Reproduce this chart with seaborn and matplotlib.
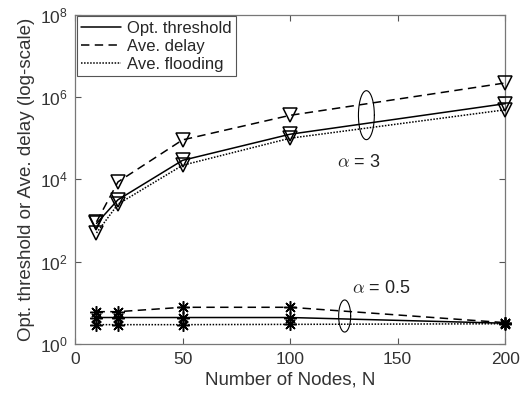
import numpy as np
import pandas as pd
import matplotlib
matplotlib.use('Agg')
import matplotlib.pyplot as plt
from matplotlib.lines import Line2D
import seaborn as sns

# values (log-scale y)
nodes = [10, 20, 50, 100, 200]
thr_a3 = [850, 3200, 2.9e4, 1.25e5, 6.9e5]
delay_a3 = [930, 8.7e3, 9.1e4, 3.6e5, 2.2e6]
flood_a3 = [500, 2.5e3, 2.2e4, 1.0e5, 4.9e5]
thr_a05 = [4.4, 4.4, 4.4, 4.4, 3.2]
delay_a05 = [6.1, 6.1, 7.8, 7.8, 3.3]
flood_a05 = [2.95, 2.95, 2.95, 3.0, 3.1]

series_names = ['Opt. threshold', 'Ave. delay', 'Ave. flooding']
xticks = [0, 50, 100, 150, 200]
yticks = [1e0, 1e2, 1e4, 1e6, 1e8]

sns.set_style('ticks')
plt.rcParams['font.family'] = ['Liberation Sans', 'DejaVu Sans']
plt.rcParams['mathtext.fontset'] = 'cm'

fig = plt.figure(figsize=(5.3, 4.03), dpi=100)
ax = fig.add_axes([0.1415, 0.1464, 0.8115, 0.817])

styles = {'Opt. threshold': '-', 'Ave. delay': (0, (5.5, 3.5)), 'Ave. flooding': (0, (1, 1))}
rows = []
for alpha, vals in [('3', [thr_a3, delay_a3, flood_a3]), ('0.5', [thr_a05, delay_a05, flood_a05])]:
    for name, v in zip(series_names, vals):
        for n, y in zip(nodes, v):
            rows.append({'N': n, 'value': y, 'series': name, 'alpha': alpha})
df = pd.DataFrame(rows)

for alpha, mk, ms in [('3', 'v', 9.5), ('0.5', (8, 2, 0), 9)]:
    for name in series_names:
        sub = df[(df['alpha'] == alpha) & (df['series'] == name)]
        sns.lineplot(data=sub, x='N', y='value', ax=ax, color='black', lw=1.1,
                     linestyle=styles[name], marker=mk, markersize=ms,
                     markerfacecolor='none', markeredgecolor='black',
                     markeredgewidth=1.1, legend=False, clip_on=False, zorder=3)

ax.set_yscale('log')
ax.set_xlim(0, 200)
ax.set_ylim(1, 1e8)
ax.set_xticks(xticks)
ax.set_yticks(yticks)
ax.yaxis.set_minor_locator(matplotlib.ticker.NullLocator())
ax.tick_params(direction='in', top=True, right=True, length=4, width=0.8,
               colors='#555555', labelcolor='#333333', labelsize=12.5)
ax.tick_params(axis='x', pad=6)
ax.tick_params(axis='y', pad=5)
for s in ax.spines.values():
    s.set_color('#777777')
    s.set_linewidth(0.9)

ax.set_xlabel('Number of Nodes, N', fontsize=13.5, color='#333333', labelpad=3)
ax.set_ylabel('Opt. threshold or Ave. delay (log-scale)', fontsize=13.5, color='#333333', labelpad=4)

# ellipses marking the groups
t = np.linspace(0, 2 * np.pi, 200)
ax.plot(135.5 + 3.7 * np.cos(t), 10 ** (5.56 + 0.595 * np.sin(t)), color='black', lw=0.8)
ax.plot(125.4 + 2.8 * np.cos(t), 10 ** (0.68 + 0.39 * np.sin(t)), color='black', lw=0.8)
ax.text(122, 10 ** 4.4, r'$\alpha$ = 3', fontsize=13, va='center', color='#222222')
ax.text(129, 10 ** 1.36, r'$\alpha$ = 0.5', fontsize=13, va='center', color='#222222')

handles = [Line2D([], [], color='black', lw=1.1, linestyle=styles[n]) for n in series_names]
leg = ax.legend(handles, series_names, loc='upper left', fontsize=12, handlelength=2.4,
                borderaxespad=0.1, fancybox=False, framealpha=1, borderpad=0.25,
                labelspacing=0.2, handletextpad=0.4)
leg.get_frame().set_edgecolor('#555555')
leg.get_frame().set_linewidth(0.8)

fig.savefig('out.png', dpi=100)
